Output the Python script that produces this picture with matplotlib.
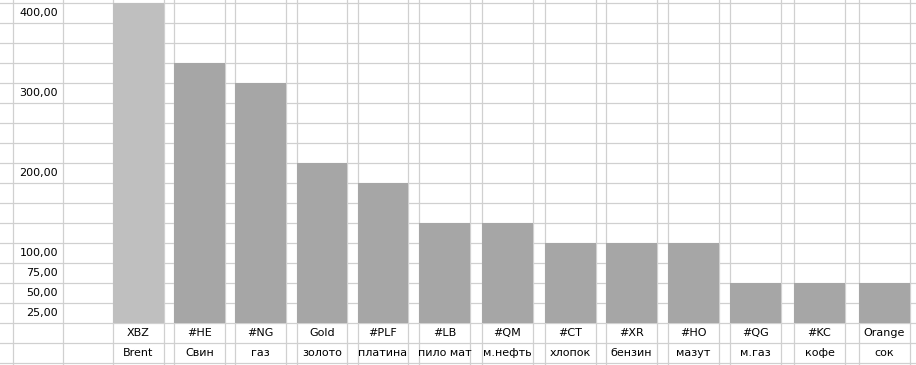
import matplotlib
matplotlib.use("Agg")
import matplotlib.pyplot as plt

# Данные
tickers = ["XBZ", "#HE", "#NG", "Gold", "#PLF", "#LB", "#QM", "#CT", "#XR", "#HO", "#QG", "#KC", "Orange"]
names = ["Brent", "Свин", "газ", "золото", "платина", "пило мат", "м.нефть", "хлопок", "бензин", "мазут", "м.газ", "кофе", "сок"]
values = [400, 325, 300, 200, 175, 125, 125, 100, 100, 100, 50, 50, 50]
y_labels = ["400,00", "300,00", "200,00", "100,00", "75,00", "50,00", "25,00"]
y_label_vals = [400, 300, 200, 100, 75, 50, 25]

# Разметка ячеек (пиксели)
bar_left = [113.3, 174.3, 235.3, 296.7, 357.7, 419.3, 482.3, 545.3, 606.3, 668.3, 730.3, 794.3, 859.3]
bar_w = 50.3
col_lines = [13.3, 63.3] + [x for b in bar_left for x in (b, b + bar_w)]
row_h = 25  # одна строка = 25 единиц

fig = plt.figure(figsize=(9.16, 3.65), dpi=100)
ax = fig.add_axes([0, 0, 1, 1])
ax.set_xlim(0, 916)
ax.set_ylim(-2.115 * row_h, 16.135 * row_h)
ax.axis("off")

grid_c = "#d0d0d0"
for k in range(-2, 17):
    ax.axhline(k * row_h, color=grid_c, lw=0.9, zorder=1)
for x in col_lines:
    ax.axvline(x, color=grid_c, lw=0.9, zorder=1)

colors = ["#bfbfbf"] + ["#a6a6a6"] * (len(values) - 1)
ax.bar(bar_left, values, width=bar_w, align="edge", color=colors, zorder=2, linewidth=0)

# подписи "оси"
for lab, v in zip(y_labels, y_label_vals):
    ax.text(58, v - row_h / 2, lab, ha="right", va="center", fontsize=8, zorder=3)

for b, t, n in zip(bar_left, tickers, names):
    cx = b + bar_w / 2
    ax.text(cx, -row_h / 2, t, ha="center", va="center", fontsize=8, zorder=3)
    ax.text(cx, -1.5 * row_h, n, ha="center", va="center", fontsize=8, zorder=3)

fig.savefig("out.png", dpi=100)
